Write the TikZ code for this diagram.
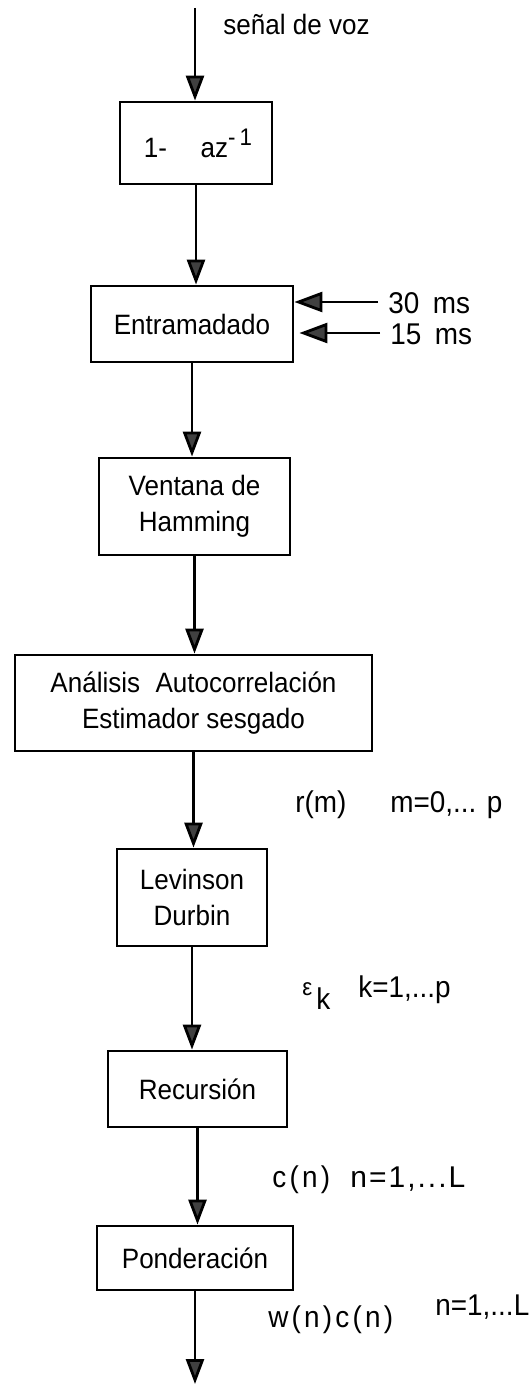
\documentclass[tikz,border=0pt]{standalone}
\usepackage{fontspec}
\setmainfont{Liberation Sans}
\newfontfamily\narrowsans[FakeStretch=0.93]{Liberation Sans}
\usetikzlibrary{arrows.meta}
\newcommand\boxfont{\narrowsans\fontsize{14pt}{18pt}\selectfont}
\newcommand\lblfont{\narrowsans\fontsize{15pt}{18pt}\selectfont}
\newcommand\spc{\kern1.6pt}
\newcommand\wspc{\kern1pt}

\begin{document}
\begin{tikzpicture}[x=0.5pt,y=-0.5pt,
  box/.style={draw,line width=1.4pt,inner sep=0pt,align=center,font=\boxfont},
  flow/.style={line width=1.4pt,-{Triangle[length=12.5pt,width=9pt,fill=black!75]}},
  side/.style={line width=1.4pt,-{Triangle[length=14pt,width=10pt,fill=black!75]}},
  lbl/.style={anchor=base west,inner sep=0pt,font=\lblfont}]
\useasboundingbox (0,0) rectangle (530,1384);

% processing chain
\node[box,minimum width=76pt,minimum height=41pt] (pre) at (196,143)
  {\hspace{2pt}1-\hspace{1.2em}az\raisebox{6pt}{\narrowsans\fontsize{12pt}{12pt}\selectfont -\,1}};
\node[box,minimum width=101pt,minimum height=38pt] (frame) at (192,324) {Entramadado};
\node[box,minimum width=95.5pt,minimum height=48.5pt] (win) at (194.5,506.5) {Ventana de\\Hamming};
\node[box,minimum width=178.5pt,minimum height=48pt] (acorr) at (193.5,703)
  {Análisis\hspace{0.55em}Autocorrelación\\Estimador sesgado};
\node[box,minimum width=75pt,minimum height=48.5pt] (lev) at (192,897.5) {Levinson\\Durbin};
\node[box,minimum width=89.5pt,minimum height=38pt] (rec) at (197.5,1089) {Recursión};
\node[box,minimum width=98pt,minimum height=32pt] (pond) at (195,1258) {Ponderación};

% input, output and frame parameters
\coordinate (in) at (195,8);
\coordinate (out) at (194,1384);
\coordinate (t30) at (378,302);
\coordinate (t15) at (380,333);

\draw[flow] (in) -- (in |- pre.north);
\draw[flow] (pre.south) -- (pre.south |- frame.north);
\draw[flow] (frame.south) -- (frame.south |- win.north);
\draw[flow] (win.south) -- (win.south |- acorr.north);
\draw[flow] (acorr.south) -- (acorr.south |- lev.north);
\draw[flow] (lev.south) -- (lev.south |- rec.north);
\draw[flow] (rec.south) -- (rec.south |- pond.north);
\draw[flow] (pond.south) -- (pond.south |- out);

\draw[side] (t30) -- (frame.east |- t30);
\draw[side] (t15) -- ([xshift=2.5pt]frame.east |- t15);

% labels
\node[lbl,font=\boxfont] (voz) at (223,35) {señal de voz};
\node[lbl] (ms30) at (388,314) {30\hspace{0.45em}ms};
\node[lbl] (ms15) at (390,345) {15\hspace{0.45em}ms};

\node[lbl] (rm) at (295,812) {r(m)};
\node[lbl] (rmr) at (390,812) {m=0,...\hspace{0.35em}p};

\node[lbl,font=\narrowsans\fontsize{12pt}{12pt}\selectfont] (eps) at (302,995) {ε};
\node[lbl] (epsk) at (316,1009) {k};
\node[lbl] (epsr) at (358,997) {k=1,...p};

\node[lbl] (cn) at (272,1187) {c\spc(\spc n\spc)};
\node[lbl,font=\fontsize{15pt}{18pt}\selectfont] (cnr) at (350,1187)
  {n\wspc=\wspc1\wspc,\wspc.\wspc.\wspc.\wspc L};

\node[lbl] (wc) at (268,1327) {w\spc(\spc n\spc)\spc c\spc(\spc n\spc)};
\node[lbl] (wcr) at (435,1315) {n=1,...L};
\end{tikzpicture}
\end{document}
